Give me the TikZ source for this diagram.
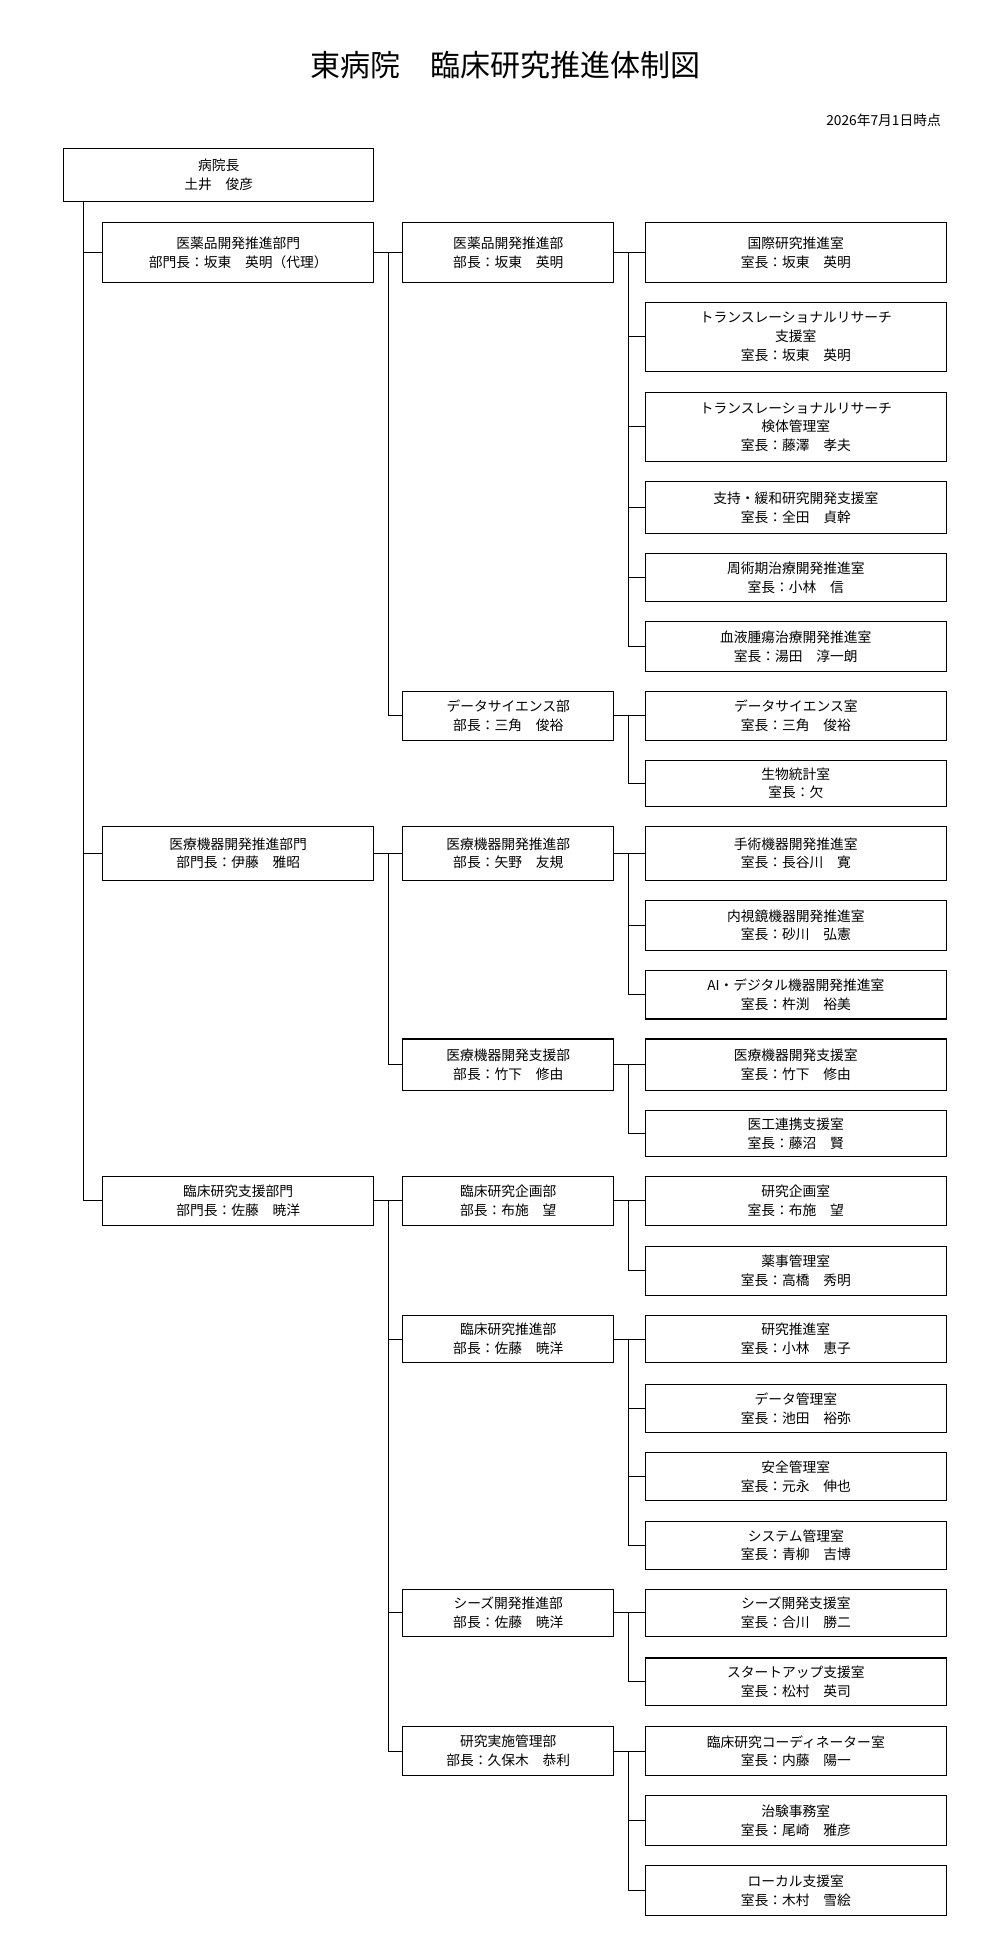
\documentclass[tikz,border=0pt]{standalone}
\usepackage{fontspec}
\setmainfont{Noto Sans CJK JP}
\begin{document}
\begin{tikzpicture}[x=1pt,y=-1pt,
  box/.style={draw,line width=0.9pt,inner sep=0pt,outer sep=0pt,align=center,font=\fontsize{11}{15}\selectfont},
  ln/.style={line width=0.8pt}]
\path[use as bounding box] (0,0) rectangle (800,1550);
\newcommand\bx[6]{\node[box,minimum width={(#3-#2)*1pt},minimum height={(#5-#4)*1pt}] (#1) at ({(#2+#3)/2},{(#4+#5)/2}) {#6};}
\node[font=\fontsize{24}{28}\selectfont] (title) at (404,52) {東病院\hspace{1em}臨床研究推進体制図};
\node[anchor=east,font=\fontsize{11}{13}\selectfont] (date) at (756,96) {2026年7月1日時点};
\bx{root}{51}{299}{119}{161}{病院長\\土井\hspace{1em}俊彦}
% divisions
\bx{d1}{82}{299}{178}{226}{医薬品開発推進部門\\部門長：坂東\hspace{1em}英明（代理）}
\bx{d2}{82}{299}{661}{704}{医療機器開発推進部門\\部門長：伊藤\hspace{1em}雅昭}
\bx{d3}{82}{299}{941}{980}{臨床研究支援部門\\部門長：佐藤\hspace{1em}暁洋}
% departments
\bx{p1}{322}{491}{178}{226}{医薬品開発推進部\\部長：坂東\hspace{1em}英明}
\bx{p2}{322}{491}{553}{592}{データサイエンス部\\部長：三角\hspace{1em}俊裕}
\bx{p3}{322}{491}{661}{704}{医療機器開発推進部\\部長：矢野\hspace{1em}友規}
\bx{p4}{322}{491}{831}{872}{医療機器開発支援部\\部長：竹下\hspace{1em}修由}
\bx{p5}{322}{491}{941}{980}{臨床研究企画部\\部長：布施\hspace{1em}望}
\bx{p6}{322}{491}{1052}{1090}{臨床研究推進部\\部長：佐藤\hspace{1em}暁洋}
\bx{p7}{322}{491}{1271}{1309}{シーズ開発推進部\\部長：佐藤\hspace{1em}暁洋}
\bx{p8}{322}{491}{1381}{1420}{研究実施管理部\\部長：久保木\hspace{1em}恭利}
% offices
\bx{r1}{516}{757}{178}{226}{国際研究推進室\\室長：坂東\hspace{1em}英明}
\bx{r2}{516}{757}{242}{297}{トランスレーショナルリサーチ\\支援室\\室長：坂東\hspace{1em}英明}
\bx{r3}{516}{757}{314}{369}{トランスレーショナルリサーチ\\検体管理室\\室長：藤澤\hspace{1em}孝夫}
\bx{r4}{516}{757}{385}{427}{支持・緩和研究開発支援室\\室長：全田\hspace{1em}貞幹}
\bx{r5}{516}{757}{443}{481}{周術期治療開発推進室\\室長：小林\hspace{1em}信}
\bx{r6}{516}{757}{497}{537}{血液腫瘍治療開発推進室\\室長：湯田\hspace{1em}淳一朗}
\bx{r7}{516}{757}{553}{592}{データサイエンス室\\室長：三角\hspace{1em}俊裕}
\bx{r8}{516}{757}{608}{645}{生物統計室\\室長：欠}
\bx{r9}{516}{757}{661}{704}{手術機器開発推進室\\室長：長谷川\hspace{1em}寛}
\bx{r10}{516}{757}{720}{760}{内視鏡機器開発推進室\\室長：砂川\hspace{1em}弘憲}
\bx{r11}{516}{757}{776}{815}{AI・デジタル機器開発推進室\\室長：杵渕\hspace{1em}裕美}
\bx{r12}{516}{757}{831}{872}{医療機器開発支援室\\室長：竹下\hspace{1em}修由}
\bx{r13}{516}{757}{888}{925}{医工連携支援室\\室長：藤沼\hspace{1em}賢}
\bx{r14}{516}{757}{941}{980}{研究企画室\\室長：布施\hspace{1em}望}
\bx{r15}{516}{757}{997}{1036}{薬事管理室\\室長：高橋\hspace{1em}秀明}
\bx{r16}{516}{757}{1052}{1090}{研究推進室\\室長：小林\hspace{1em}恵子}
\bx{r17}{516}{757}{1107}{1146}{データ管理室\\室長：池田\hspace{1em}裕弥}
\bx{r18}{516}{757}{1162}{1200}{安全管理室\\室長：元永\hspace{1em}伸也}
\bx{r19}{516}{757}{1217}{1255}{システム管理室\\室長：青柳\hspace{1em}吉博}
\bx{r20}{516}{757}{1271}{1309}{シーズ開発支援室\\室長：合川\hspace{1em}勝二}
\bx{r21}{516}{757}{1326}{1364}{スタートアップ支援室\\室長：松村\hspace{1em}英司}
\bx{r22}{516}{757}{1381}{1420}{臨床研究コーディネーター室\\室長：内藤\hspace{1em}陽一}
\bx{r23}{516}{757}{1436}{1476}{治験事務室\\室長：尾崎\hspace{1em}雅彦}
\bx{r24}{516}{757}{1492}{1532}{ローカル支援室\\室長：木村\hspace{1em}雪絵}
% connectors
\coordinate (t) at (67,161);
\foreach \d in {d1,d2,d3} \draw[ln] (t) |- (\d.west);
\foreach \a/\b in {d1/p1,d1/p2,d2/p3,d2/p4,d3/p5,d3/p6,d3/p7,d3/p8}
  \draw[ln] (\a.east) -- ++(12,0) |- (\b.west);
\foreach \a/\b in {p1/r1,p1/r2,p1/r3,p1/r4,p1/r5,p1/r6,p2/r7,p2/r8,p3/r9,p3/r10,p3/r11,p4/r12,p4/r13,p5/r14,p5/r15,p6/r16,p6/r17,p6/r18,p6/r19,p7/r20,p7/r21,p8/r22,p8/r23,p8/r24}
  \draw[ln] (\a.east) -- ++(12,0) |- (\b.west);
\end{tikzpicture}
\end{document}
